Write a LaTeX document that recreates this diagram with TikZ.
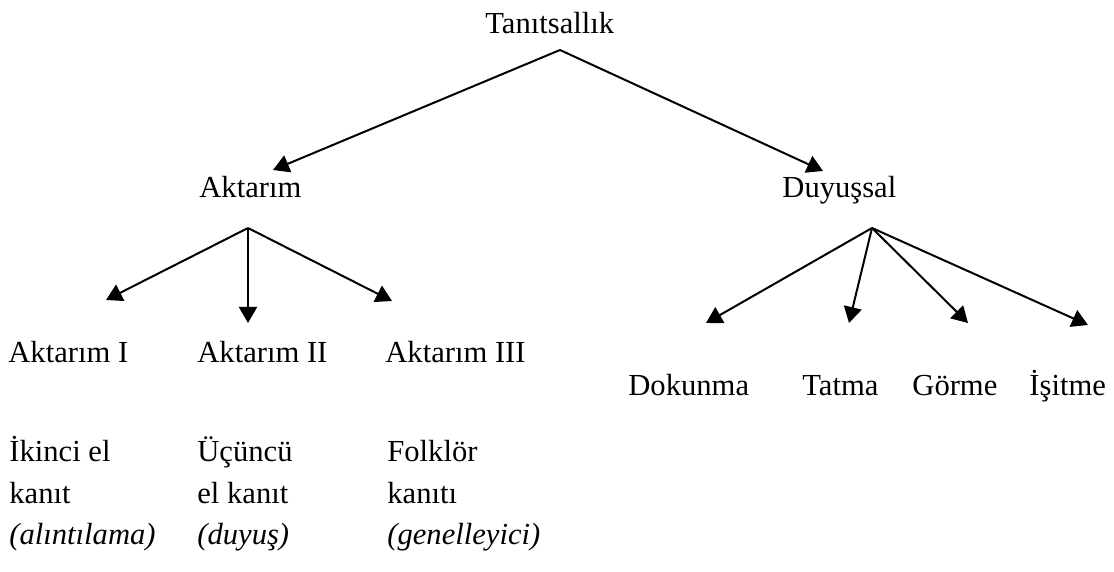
\documentclass[tikz,border=0pt]{standalone}
\usepackage{fontspec}
\setmainfont{Liberation Serif}
\usetikzlibrary{arrows.meta}
\begin{document}
\begin{tikzpicture}[x=0.5pt,y=-0.5pt,
  lbl/.style={inner sep=0pt,anchor=base west,font=\fontsize{15.3}{18}\selectfont},
  link/.style={line width=1pt,-{Triangle[length=8pt,width=9pt]}}]
\useasboundingbox (0,0) rectangle (1114,572);

% labels
\node[lbl] (root) at (485,34) {Tanıtsallık};
\node[lbl] (akt) at (199,198) {Aktarım};
\node[lbl] (duy) at (782,198) {Duyuşsal};

\node[lbl] (a1) at (8,363) {Aktarım I};
\node[lbl] (a2) at (197,363) {Aktarım II};
\node[lbl] (a3) at (385,363) {Aktarım III};

\node[lbl] (a1l1) at (9,461) {İkinci el};
\node[lbl] (a1l2) at (9,503) {kanıt};
\node[lbl] (a1l3) at (9,544) {\itshape (alıntılama)};
\node[lbl] (a2l1) at (197,461) {Üçüncü};
\node[lbl] (a2l2) at (197,503) {el kanıt};
\node[lbl] (a2l3) at (197,544) {\itshape (duyuş)};
\node[lbl] (a3l1) at (387,461) {Folklör};
\node[lbl] (a3l2) at (387,503) {kanıtı};
\node[lbl] (a3l3) at (387,544) {\itshape (genelleyici)};

\node[lbl] (dok) at (628,395) {Dokunma};
\node[lbl] (tat) at (802,395) {Tatma};
\node[lbl] (gor) at (912,395) {Görme};
\node[lbl] (isi) at (1029,395) {İşitme};

% branching points and arrow tips
\coordinate (rootP) at (560,50);
\coordinate (aktT) at (273,170);
\coordinate (duyT) at (823,171);
\coordinate (aktP) at (248,228);
\coordinate (a1T) at (106,300);
\coordinate (a2T) at (248,323);
\coordinate (a3T) at (392,301);
\coordinate (duyP) at (872,228);
\coordinate (dokT) at (706,323);
\coordinate (tatT) at (849,323);
\coordinate (gorT) at (968,323);
\coordinate (isiT) at (1088,325);

% connectors
\draw[link] (rootP) -- (aktT);
\draw[link] (rootP) -- (duyT);
\draw[link] (aktP) -- (a1T);
\draw[link] (aktP) -- (a2T);
\draw[link] (aktP) -- (a3T);
\draw[link] (duyP) -- (dokT);
\draw[link] (duyP) -- (tatT);
\draw[link] (duyP) -- (gorT);
\draw[link] (duyP) -- (isiT);
\end{tikzpicture}
\end{document}
